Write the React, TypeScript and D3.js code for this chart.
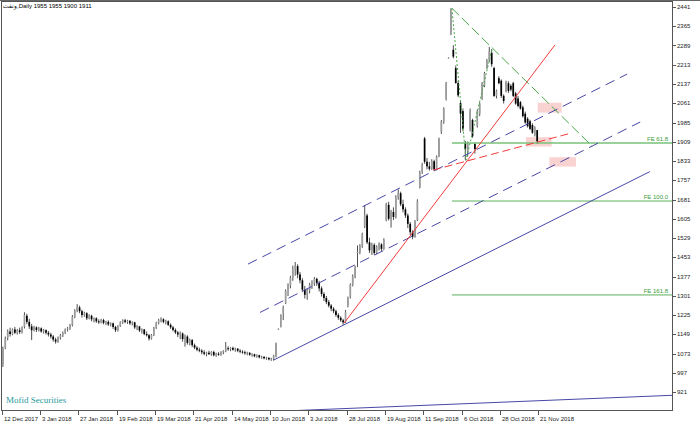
import React from "react";
import * as d3 from "d3";

const title = "ونفت,Daily  1955 1955 1900 1911";
const watermark = "Mofid Securities";

const dateLabels = [
  "12 Dec 2017", "3 Jan 2018", "27 Jan 2018", "19 Feb 2018", "19 Mar 2018",
  "21 Apr 2018", "14 May 2018", "10 Jun 2018", "3 Jul 2018", "28 Jul 2018",
  "19 Aug 2018", "11 Sep 2018", "6 Oct 2018", "28 Oct 2018", "21 Nov 2018",
];
const barsPerDateLabel = 16;

const priceTicks = [
  2441, 2365, 2289, 2213, 2137, 2061, 1985, 1909, 1833, 1757, 1681,
  1605, 1529, 1453, 1377, 1301, 1225, 1149, 1073, 997, 921,
];

// OHLC per daily bar
const opens = [
  1030, 1095, 1135, 1160, 1150, 1168, 1155, 1165, 1158, 1178,
  1222, 1198, 1180, 1165, 1176, 1166, 1172, 1160, 1165, 1155,
  1148, 1140, 1128, 1120, 1136, 1145, 1155, 1168, 1172, 1186,
  1218, 1242, 1255, 1240, 1225, 1232, 1212, 1222, 1208, 1212,
  1200, 1196, 1205, 1194, 1198, 1188, 1192, 1178, 1165, 1182,
  1196, 1204, 1198, 1202, 1192, 1196, 1176, 1180, 1164, 1168,
  1150, 1145, 1132, 1146, 1175, 1194, 1204, 1208, 1198, 1200,
  1186, 1176, 1166, 1156, 1148, 1152, 1130, 1140, 1115, 1126,
  1106, 1096, 1088, 1084, 1078, 1072, 1076, 1070, 1079, 1066,
  1072, 1068, 1078, 1082, 1094, 1090, 1095, 1088, 1092, 1084,
  1080, 1078, 1074, 1076, 1068, 1070, 1062, 1066, 1058, 1060,
  1054, 1056, 1050, 1052, 1062, 1170, 1180, 1232, 1272, 1325,
  1342, 1372, 1405, 1418, 1385, 1362, 1325, 1305, 1322, 1345,
  1350, 1368, 1352, 1330, 1308, 1292, 1276, 1262, 1250, 1240,
  1225, 1214, 1204, 1198, 1262, 1298, 1344, 1378, 1470, 1474,
  1498, 1575, 1618, 1512, 1480, 1502, 1470, 1494, 1504, 1486,
  1600, 1660, 1605, 1632, 1612, 1690, 1706, 1662, 1642, 1618,
  1585, 1552, 1534, 1600, 1730, 1790, 1922, 1830, 1812, 1802,
  1832, 1800, 1852, 1948, 1988, 2078, 2240, 2342, 2272, 2200,
  2141, 2062, 2030, 1905, 1872, 1960, 1995, 1900, 1970, 2020,
  2080, 2130, 2200, 2230, 2260, 2200, 2090, 2160, 2150, 2090,
  2110, 2140, 2130, 2140, 2100, 2080, 2065, 2045, 2020, 2000,
  1990, 1975, 1935, 1955,
];
const highs = [
  1100, 1140, 1168, 1175, 1172, 1178, 1170, 1175, 1180, 1236,
  1230, 1210, 1190, 1182, 1180, 1178, 1176, 1170, 1168, 1162,
  1155, 1146, 1135, 1140, 1150, 1160, 1172, 1178, 1190, 1225,
  1248, 1268, 1262, 1246, 1238, 1236, 1228, 1226, 1215, 1216,
  1208, 1210, 1210, 1202, 1204, 1196, 1195, 1182, 1185, 1200,
  1208, 1210, 1206, 1205, 1200, 1198, 1185, 1182, 1172, 1170,
  1160, 1150, 1150, 1178, 1198, 1210, 1216, 1212, 1206, 1204,
  1192, 1182, 1172, 1162, 1160, 1156, 1148, 1145, 1132, 1130,
  1112, 1102, 1096, 1090, 1086, 1080, 1084, 1082, 1084, 1076,
  1078, 1082, 1086, 1118, 1102, 1098, 1100, 1096, 1094, 1090,
  1086, 1084, 1080, 1078, 1074, 1072, 1070, 1068, 1064, 1062,
  1060, 1058, 1056, 1068, 1116, 1172, 1228, 1262, 1326, 1350,
  1380, 1420, 1434, 1425, 1395, 1370, 1340, 1330, 1352, 1362,
  1375, 1372, 1360, 1338, 1315, 1300, 1284, 1268, 1256, 1246,
  1232, 1220, 1210, 1245, 1298, 1350, 1385, 1420, 1500, 1505,
  1550, 1659, 1625, 1530, 1510, 1508, 1500, 1512, 1508, 1528,
  1668, 1672, 1640, 1650, 1698, 1721, 1712, 1680, 1650, 1626,
  1592, 1560, 1600, 1682, 1795, 1826, 1928, 1845, 1830, 1840,
  1838, 1855, 1925, 1995, 2045, 2145, 2242, 2436, 2290, 2210,
  2150, 2070, 2040, 1912, 1910, 2040, 2000, 1905, 2036, 2065,
  2145, 2185, 2236, 2283, 2275, 2205, 2115, 2168, 2155, 2096,
  2150, 2148, 2136, 2146, 2106, 2090, 2070, 2052, 2028, 2006,
  1996, 1982, 1970, 1955,
];
const lows = [
  1020, 1090, 1125, 1140, 1145, 1150, 1148, 1150, 1152, 1172,
  1190, 1170, 1126, 1160, 1158, 1160, 1155, 1152, 1148, 1140,
  1132, 1120, 1112, 1115, 1128, 1138, 1150, 1160, 1166, 1180,
  1212, 1236, 1232, 1215, 1218, 1205, 1208, 1200, 1196, 1194,
  1190, 1192, 1188, 1185, 1182, 1180, 1170, 1158, 1160, 1178,
  1190, 1192, 1190, 1186, 1184, 1170, 1165, 1158, 1152, 1145,
  1140, 1124, 1128, 1142, 1170, 1188, 1196, 1192, 1188, 1182,
  1170, 1160, 1150, 1138, 1130, 1120, 1100, 1108, 1105, 1098,
  1090, 1082, 1078, 1070, 1066, 1062, 1068, 1064, 1062, 1060,
  1064, 1064, 1070, 1078, 1084, 1082, 1084, 1080, 1078, 1074,
  1072, 1068, 1066, 1064, 1060, 1058, 1056, 1054, 1052, 1050,
  1048, 1046, 1044, 1045, 1058, 1168, 1176, 1205, 1268, 1300,
  1330, 1360, 1380, 1370, 1350, 1315, 1290, 1285, 1310, 1328,
  1340, 1340, 1318, 1298, 1280, 1268, 1255, 1240, 1232, 1218,
  1206, 1198, 1186, 1194, 1255, 1290, 1338, 1370, 1414, 1465,
  1490, 1568, 1505, 1470, 1462, 1462, 1466, 1480, 1478, 1482,
  1595, 1598, 1570, 1600, 1606, 1680, 1655, 1630, 1608, 1568,
  1540, 1524, 1530, 1596, 1725, 1782, 1822, 1800, 1795, 1798,
  1795, 1796, 1848, 1940, 1980, 2072, 2238, 2330, 2238, 2138,
  2085, 1944, 1950, 1836, 1850, 1950, 1925, 1862, 1965, 2010,
  2074, 2124, 2196, 2224, 2205, 2086, 2080, 2136, 2082, 2060,
  2104, 2102, 2108, 2085, 2055, 2045, 2036, 2005, 1980, 1965,
  1955, 1940, 1930, 1900,
];
const closes = [
  1092, 1132, 1160, 1150, 1168, 1155, 1165, 1158, 1175, 1225,
  1198, 1180, 1165, 1176, 1166, 1172, 1160, 1165, 1155, 1148,
  1140, 1128, 1120, 1136, 1145, 1155, 1168, 1172, 1185, 1218,
  1242, 1255, 1240, 1225, 1232, 1212, 1222, 1208, 1212, 1200,
  1196, 1205, 1194, 1198, 1188, 1192, 1178, 1165, 1182, 1196,
  1204, 1198, 1202, 1192, 1196, 1176, 1180, 1164, 1168, 1150,
  1145, 1132, 1146, 1175, 1194, 1204, 1208, 1198, 1200, 1186,
  1176, 1166, 1156, 1148, 1152, 1130, 1140, 1115, 1126, 1106,
  1096, 1088, 1084, 1078, 1072, 1076, 1070, 1079, 1066, 1072,
  1068, 1078, 1082, 1094, 1090, 1095, 1088, 1092, 1084, 1080,
  1078, 1074, 1076, 1068, 1070, 1062, 1066, 1058, 1060, 1054,
  1056, 1050, 1052, 1064, 1112, 1170, 1224, 1255, 1320, 1342,
  1372, 1405, 1418, 1385, 1362, 1325, 1305, 1322, 1345, 1350,
  1368, 1352, 1330, 1308, 1292, 1276, 1262, 1250, 1240, 1225,
  1214, 1204, 1196, 1238, 1294, 1344, 1378, 1412, 1474, 1498,
  1545, 1618, 1512, 1480, 1502, 1470, 1494, 1504, 1486, 1522,
  1660, 1605, 1632, 1612, 1690, 1706, 1662, 1642, 1618, 1585,
  1552, 1534, 1592, 1675, 1788, 1818, 1830, 1812, 1802, 1832,
  1800, 1850, 1920, 1988, 2040, 2140, 2240, 2420, 2245, 2141,
  2092, 2020, 1960, 1880, 1900, 2030, 1930, 1880, 2030, 2060,
  2140, 2180, 2230, 2265, 2215, 2090, 2110, 2140, 2090, 2070,
  2145, 2110, 2115, 2090, 2060, 2050, 2040, 2010, 1985, 1970,
  1960, 1945, 1965, 1911,
];

// Drawn objects, in (bar index, price)
const channelSolid = [[113, 1047], [270, 1791]];
const channelMiddle = [[107.3, 1235], [266, 1987]];
const channelUpper = [[102.3, 1426], [260.5, 2176]];
const redSolid = [[142.4, 1193], [230.4, 2291]];
const redDashed = [[179.5, 1797], [235.9, 1940]];
const greenDashed = [[187.4, 2436], [245.9, 1892]];
const fePoints = [[187.4, 2436], [193.3, 1836], [204.1, 2275]];
const feRatios = [0.618, 1.0, 1.618];
const feLabels = ["FE 61.8", "FE 100.0", "FE 161.8"];
const bottomLine = [[117.7, 846], [282, 909]];
const pinkBoxes = [
  [223.2, 233.2, 2063, 2024],
  [218.3, 229.0, 1927, 1890],
  [228.1, 239.2, 1848, 1811],
];

export default function App() {
  const W = 700, H = 425;
  const L = 1, T = 1, R = 673, B = 411;
  const x = d3.scaleLinear().domain([0, 224]).range([1.7, 538.4]);
  const y = d3.scaleLinear().domain([921, 2441]).range([392, 7]);
  const bx = (i: number) => x(i + 0.5);
  const line = d3.line<number[]>().x((d) => bx(d[0])).y((d) => y(d[1]));
  const xEndIdx = x.invert(R) - 0.5;

  const [A, Bp, C] = fePoints;
  const feLevels = feRatios.map((r) => C[1] - r * (A[1] - Bp[1]));

  const font = "'Liberation Sans', Arial, sans-serif";
  const blue = "#4848a8";
  const red = "#f23c3c";
  const green = "#4aa84a";

  return (
    <svg
      width={W}
      height={H}
      style={{ position: "fixed", left: 0, top: 0, background: "#fff" }}
      fontFamily={font}
    >
      <defs>
        <clipPath id="plot">
          <rect x={L} y={T} width={R - L} height={B - T} />
        </clipPath>
      </defs>
      <rect x={0} y={0} width={W} height={H} fill="#fff" />
      <g clipPath="url(#plot)">
        {pinkBoxes.map((b, k) => (
          <rect
            key={k}
            x={bx(b[0])}
            y={y(b[2])}
            width={bx(b[1]) - bx(b[0])}
            height={y(b[3]) - y(b[2])}
            fill="#f9d2d2"
          />
        ))}
        {closes.map((c, i) => {
          const o = opens[i];
          const bull = c >= o;
          const cx = bx(i);
          const yt = y(Math.max(o, c));
          const yb = y(Math.min(o, c));
          return (
            <g key={i}>
              <line x1={cx} x2={cx} y1={y(highs[i])} y2={y(lows[i])} stroke="#222" strokeWidth={0.8} />
              <rect
                x={cx - 0.85}
                y={yt}
                width={1.7}
                height={Math.max(0.8, yb - yt)}
                fill={bull ? "#9c9c9c" : "#000"}
              />
            </g>
          );
        })}
        {feLevels.map((lv, k) => (
          <g key={k}>
            <line
              x1={bx(A[0])}
              x2={R}
              y1={y(lv)}
              y2={y(lv)}
              stroke={k === 0 ? "#78c078" : "#5cb05c"}
              strokeWidth={k === 0 ? 1.6 : 1}
            />
            <text x={R - 5} y={y(lv) - 1.6} textAnchor="end" fontSize={6} fill="#3a9a3a">
              {feLabels[k]}
            </text>
          </g>
        ))}
        <path d={line(channelSolid) || ""} stroke={blue} strokeWidth={1} fill="none" />
        <path d={line(channelMiddle) || ""} stroke={blue} strokeWidth={1} strokeDasharray="10,6" fill="none" />
        <path d={line(channelUpper) || ""} stroke={blue} strokeWidth={1} strokeDasharray="10,6" fill="none" />
        <path d={line(bottomLine) || ""} stroke={blue} strokeWidth={1} fill="none" />
        <path d={line(redSolid) || ""} stroke={red} strokeWidth={1} fill="none" />
        <path d={line(redDashed) || ""} stroke={red} strokeWidth={1} strokeDasharray="8,4" fill="none" />
        <path d={line(greenDashed) || ""} stroke={green} strokeWidth={1} strokeDasharray="10,4" fill="none" />
        <path d={line(fePoints) || ""} stroke={green} strokeWidth={1} strokeDasharray="2,2" fill="none" />
        <text x={6} y={403} fontSize={9} fill="#2a9a9a" fontFamily="'Liberation Serif', 'Times New Roman', serif">
          {watermark}
        </text>
        <text x={3} y={8} fontSize={6} fill="#000">
          {title}
        </text>
      </g>
      {/* frame */}
      <line x1={0} x2={W} y1={0.5} y2={0.5} stroke="#666" />
      <rect x={L + 0.5} y={T + 0.5} width={R - L - 1} height={B - T - 1} fill="none" stroke="#555" strokeWidth={1} />
      {/* right price axis */}
      {priceTicks.map((p) => (
        <g key={p}>
          <line x1={R - 0.5} x2={R + 3} y1={Math.round(y(p)) + 0.5} y2={Math.round(y(p)) + 0.5} stroke="#555" />
          <text x={R + 4} y={y(p) + 2} fontSize={6} fill="#222">
            {p}
          </text>
        </g>
      ))}
      {/* date axis */}
      {dateLabels.map((d, k) => {
        const px = Math.round(x(k * barsPerDateLabel)) + 0.5;
        return (
          <g key={d}>
            <line x1={px} x2={px} y1={B - 0.5} y2={B + 4} stroke="#555" />
            <text x={px + 1.5} y={421} fontSize={6} fill="#222">
              {d}
            </text>
          </g>
        );
      })}
    </svg>
  );
}
